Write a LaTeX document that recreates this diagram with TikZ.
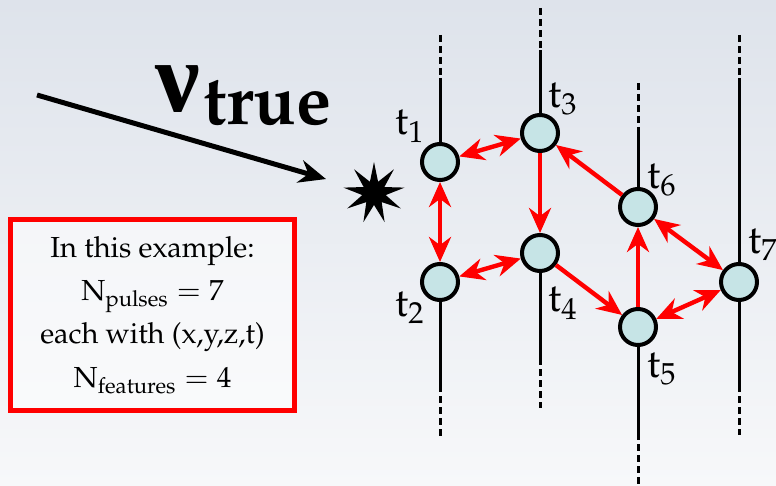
\documentclass[tikz,border=0pt]{standalone}
\usepackage[no-math]{fontspec}
\newfontfamily\greekfont{Liberation Serif}
\usepackage[T1]{fontenc}
\usepackage{mathpazo}
\usetikzlibrary{arrows.meta, positioning, shapes.geometric}
\definecolor{pulsefill}{HTML}{C6E4E6}
\definecolor{bgtop}{HTML}{DEE3EB}
\definecolor{bgbottom}{HTML}{F7F8FA}
\definecolor{linkred}{HTML}{FF0000}
\newcommand{\nulabel}{{\fontsize{50}{50}\greekfont\bfseries ν}\kern1.5pt%
  {\fontsize{35}{35}\selectfont\bfseries\raisebox{-6.5pt}{true}}}

\begin{document}
\begin{tikzpicture}[
    x=0.5pt, y=-0.5pt,
    pulse/.style={
      draw, circle, fill=pulsefill, line width=2pt,
      minimum size=18pt, inner sep=0pt},
    tlabel/.style={
      font=\fontsize{20}{20}\selectfont, inner sep=0pt},
    infobox/.style={
      draw=linkred, line width=2.5pt, fill=white, fill opacity=0.55,
      text opacity=1, minimum width=142pt, minimum height=95.5pt,
      align=center, font=\fontsize{14.5}{21.7}\selectfont},
    wire/.style={line width=1.5pt},
    wiredash/.style={line width=1.5pt, dash pattern=on 3.5pt off 2pt},
    link/.style={-{Stealth[length=12.5pt, width=11pt]},
      line width=2.2pt, color=linkred},
    blink/.style={{Stealth[length=12.5pt, width=11pt]}-{Stealth[length=12.5pt, width=11pt]},
      line width=2.2pt, color=linkred},
    nuarrow/.style={-{Stealth[length=13.5pt, width=11.5pt]}, line width=2.5pt},
  ]

  \useasboundingbox (0,0) rectangle (776,486);
  \fill[top color=bgtop, bottom color=bgbottom] (0,0) rectangle (776,486);

  % ── Pulses ──
  \node[pulse] (t1) at (440,162) {};
  \node[pulse] (t2) at (440,282) {};
  \node[pulse] (t3) at (540,133) {};
  \node[pulse] (t4) at (540,253) {};
  \node[pulse] (t5) at (638,327) {};
  \node[pulse] (t6) at (638,207) {};
  \node[pulse] (t7) at (739,282) {};

  \node[tlabel] (lab1) at (410,126) {$\mathrm{t}_1$};
  \node[tlabel] (lab2) at (410,308) {$\mathrm{t}_2$};
  \node[tlabel] (lab3) at (563,99)  {$\mathrm{t}_3$};
  \node[tlabel] (lab4) at (563,303) {$\mathrm{t}_4$};
  \node[tlabel] (lab5) at (662,369) {$\mathrm{t}_5$};
  \node[tlabel] (lab6) at (662,180) {$\mathrm{t}_6$};
  \node[tlabel] (lab7) at (763,245) {$\mathrm{t}_7$};

  % ── Strings ──
  \coordinate (w1a) at (440,35);  \coordinate (w1b) at (440,78);
  \coordinate (w2b) at (440,385); \coordinate (w2a) at (440,437);
  \coordinate (w3a) at (540,8);   \coordinate (w3b) at (540,50);
  \coordinate (w4b) at (540,358); \coordinate (w4a) at (540,408);
  \coordinate (w6a) at (638,83);  \coordinate (w6b) at (638,128);
  \coordinate (w5b) at (638,433); \coordinate (w5a) at (638,486);
  \coordinate (w7a) at (739,35);  \coordinate (w7b) at (739,78);
  \coordinate (w7c) at (739,385); \coordinate (w7d) at (739,435);

  \draw[wiredash] (w1a) -- (w1b);
  \draw[wire] (w1b) -- (t1);
  \draw[wire] (t2) -- (w2b);
  \draw[wiredash] (w2b) -- (w2a);

  \draw[wiredash] (w3a) -- (w3b);
  \draw[wire] (w3b) -- (t3);
  \draw[wire] (t4) -- (w4b);
  \draw[wiredash] (w4b) -- (w4a);

  \draw[wiredash] (w6a) -- (w6b);
  \draw[wire] (w6b) -- (t6);
  \draw[wire] (t5) -- (w5b);
  \draw[wiredash] (w5b) -- (w5a);

  \draw[wiredash] (w7a) -- (w7b);
  \draw[wire] (w7b) -- (t7);
  \draw[wire] (t7) -- (w7c);
  \draw[wiredash] (w7c) -- (w7d);

  % ── Links ──
  \draw[blink] (t1) -- (t3);
  \draw[blink] (t1) -- (t2);
  \draw[link] (t3) -- (t4);
  \draw[link] (t6) -- (t3);
  \draw[blink] (t2) -- (t4);
  \draw[link] (t4) -- (t5);
  \draw[link] (t5) -- (t6);
  \draw[blink] (t6) -- (t7);
  \draw[blink] (t5) -- (t7);

  % ── Incoming neutrino ──
  \node[star, star points=9, star point ratio=2.6, fill, draw=none,
        minimum size=31pt, inner sep=0pt] (vertex) at (374,193) {};
  \coordinate (nustart) at (37,95);
  \draw[nuarrow, shorten >=25pt] (nustart) -- (vertex.center);
  \node[anchor=base west, inner sep=0pt] (nutrue) at (155,112) {\nulabel};

  % ── Info box ──
  \node[infobox] (info) at (152.5,315)
    {In this example:\\
     $\mathrm{N}_{\mathrm{pulses}} = 7$\\
     each with (x,y,z,t)\\
     $\mathrm{N}_{\mathrm{features}} = 4$};

\end{tikzpicture}
\end{document}
